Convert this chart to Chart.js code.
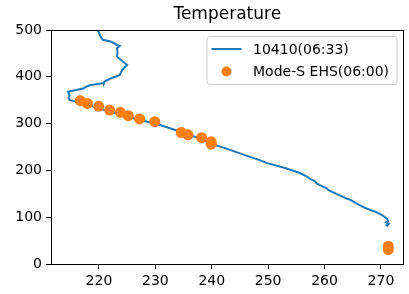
<!DOCTYPE html>
<html>
<head>
<meta charset="utf-8">
<script src="https://cdn.jsdelivr.net/npm/chart.js@4.4.1/dist/chart.umd.min.js"></script>
<style>
html,body{margin:0;padding:0;background:#fff;}
#wrap{width:409px;height:294px;}
</style>
</head>
<body>
<div id="wrap"><canvas id="c" width="409" height="294"></canvas></div>
<script>
// ---- data ----
const titleText = "Temperature";
const lineLabel = "10410(06:33)";
const lineTemp = [219.8,220.3,220.7,222.2,223.2,223.7,223.2,223.3,223.2,224.3,225.0,224.1,223.7,222.2,221.0,220.9,218.4,217.8,217.2,214.5,214.8,214.6,214.8,216.0,220.5,225.0,230.8,232.6,235.0,237.5,239.7,243.0,246.0,248.5,249.7,253.0,255.5,256.8,257.6,258.3,258.6,259.6,260.3,260.8,261.5,262.6,263.9,264.6,265.4,266.2,267.2,268.0,269.0,269.8,270.4,270.7,271.1,271.3,270.9,271.4,271.0,271.3];
const lineHeight = [500,486,479,475,468,466,461,452,443,432,425,415,404,397,390,387,382,379,375,368,361,356,350,347,331,315,297,290,280,270,258,245,232,222,216,205,195,187,181,177,172,166,162,157,153,147,140,137,131,126,120,116,112,107,103,100,96,92,89,86,83,80];
const scatterLabel = "Mode-S EHS(06:00)";
const scatterTemp = [216.7,217.95,219.96,221.9,223.8,225.2,227.2,229.9,234.6,235.8,238.2,239.9,239.9,271.3,271.3];
const scatterHeight = [349,343,337,329,324,317,310,304,281,276,270,261,256,38,31];
const xTicks = [220,230,240,250,260,270];
const yTicks = [0,100,200,300,400,500];

const FONT = "'DejaVu Sans', sans-serif";
const BLUE = "#1f77b4", ORANGE = "#ff7f0e";

const toPts = (xs, ys) => xs.map((x, i) => ({x: x, y: ys[i]}));

const frame = {
  id: 'frame',
  afterDatasetsDraw(chart) {
    const {ctx, chartArea: a} = chart;
    ctx.save();
    ctx.strokeStyle = '#000';
    ctx.lineWidth = 1;
    ctx.strokeRect(Math.round(a.left) + 0.5, Math.round(a.top) + 0.5, Math.round(a.right - a.left) - 1, Math.round(a.bottom - a.top));
    ctx.restore();
  }
};

const legendBox = {
  id: 'legendBox',
  afterDraw(chart) {
    const {ctx, chartArea: a} = chart;
    const ds = chart.data.datasets;
    const right = a.right - 7, top = a.top + 6;
    const w = 190, h = 48;
    const left = right - w;
    ctx.save();
    ctx.fillStyle = 'rgba(255,255,255,0.8)';
    ctx.strokeStyle = '#cccccc';
    ctx.lineWidth = 1;
    ctx.beginPath();
    ctx.roundRect(left + 0.5, top + 0.5, w, h, 3);
    ctx.fill();
    ctx.stroke();
    ctx.font = "14px " + FONT;
    ctx.textBaseline = 'middle';
    ctx.fillStyle = '#000';
    const row1 = top + 13, row2 = top + 35.5;
    ctx.strokeStyle = BLUE;
    ctx.lineWidth = 2;
    ctx.beginPath();
    ctx.moveTo(left + 5, row1);
    ctx.lineTo(left + 35, row1);
    ctx.stroke();
    ctx.fillText(ds[0].label, left + 46.5, row1 + 1);
    ctx.fillStyle = ORANGE;
    ctx.beginPath();
    ctx.arc(left + 20, row2, 5, 0, Math.PI * 2);
    ctx.fill();
    ctx.fillStyle = '#000';
    ctx.fillText(ds[1].label, left + 46.5, row2 + 1);
    ctx.restore();
  }
};

new Chart(document.getElementById('c'), {
  type: 'scatter',
  data: {
    datasets: [
      {
        label: lineLabel,
        data: toPts(lineTemp, lineHeight),
        showLine: true,
        borderColor: BLUE,
        borderWidth: 2,
        pointRadius: 0,
        fill: false,
        tension: 0,
        order: 1
      },
      {
        label: scatterLabel,
        data: toPts(scatterTemp, scatterHeight),
        showLine: false,
        backgroundColor: ORANGE,
        borderColor: ORANGE,
        borderWidth: 0,
        pointRadius: 5.5,
        order: 0
      }
    ]
  },
  options: {
    responsive: false,
    animation: false,
    devicePixelRatio: 1,
    layout: {padding: {left: 0, right: 4.7, top: 0, bottom: 0}},
    plugins: {
      legend: {display: false},
      tooltip: {enabled: false},
      title: {
        display: true,
        text: titleText,
        fullSize: false,
        color: '#000',
        font: {family: FONT, size: 17, weight: 'normal', lineHeight: 1.2},
        padding: {top: 4, bottom: 5.6}
      }
    },
    scales: {
      x: {
        type: 'linear',
        min: 211.5,
        max: 274.0,
        afterBuildTicks: s => { s.ticks = xTicks.map(v => ({value: v})); },
        afterFit: s => { s.height = 30; },
        grid: {drawOnChartArea: false, drawTicks: true, tickLength: 5, color: '#000', lineWidth: 1},
        border: {display: true, color: '#000', width: 1},
        ticks: {color: '#000', font: {family: FONT, size: 14}, padding: 4, maxRotation: 0, autoSkip: false}
      },
      y: {
        type: 'linear',
        min: 0,
        max: 500,
        afterBuildTicks: s => { s.ticks = yTicks.map(v => ({value: v})); },
        afterFit: s => { s.width = 51; },
        grid: {drawOnChartArea: false, drawTicks: true, tickLength: 5, color: '#000', lineWidth: 1},
        border: {display: true, color: '#000', width: 1},
        ticks: {color: '#000', font: {family: FONT, size: 14}, padding: 4, autoSkip: false}
      }
    }
  },
  plugins: [frame, legendBox]
});
</script>
</body>
</html>
